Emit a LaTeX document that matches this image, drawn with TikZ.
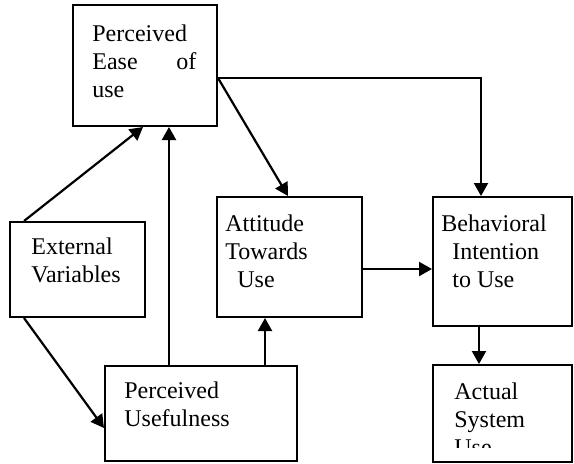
\documentclass[tikz,border=0pt]{standalone}
\usepackage{fontspec}
\setmainfont{Liberation Serif}
\usetikzlibrary{positioning,arrows.meta}

\begin{document}
\begin{tikzpicture}[x=0.5pt,y=-0.5pt,
    box/.style={draw,line width=1pt,inner sep=0pt},
    lbl/.style={inner sep=0pt,align=left,font=\fontsize{12pt}{14pt}\selectfont},
    arr/.style={line width=1.1pt,-{Triangle[length=6.5pt,width=7pt]}}]
\useasboundingbox (0,0) rectangle (574,463);
% boxes
\node[box,minimum width=72pt,minimum height=60.5pt] (peou) at (145,65.5) {};
\node[box,minimum width=72.5pt,minimum height=60pt] (att) at (289.5,257) {};
\node[box,minimum width=69.5pt,minimum height=64.5pt] (bi) at (502.5,261.5) {};
\node[box,minimum width=69.5pt,minimum height=48.5pt] (act) at (502.5,413.5) {};
\node[box,minimum width=67.5pt,minimum height=47.5pt] (ext) at (77.5,269.5) {};
\node[box,minimum width=96pt,minimum height=47.5pt] (pu) at (201,413.5) {};
% texts
\node[lbl,text width=52pt,below right=10pt and 10pt of peou.north west] (peoutxt) {Perceived\\ Ease\hfill of\\ use};
\node[lbl,below right=9pt and 4.5pt of att.north west] (atttxt) {Attitude\\ Towards\\ \hspace*{6pt}Use};
\node[lbl,below right=9pt and 4.5pt of bi.north west] (bitxt) {Behavioral\\ \hspace*{5.5pt}Intention\\ \hspace*{5.5pt}to Use};
\begin{scope}
  \clip (act.north west) rectangle ([yshift=8pt]act.south east);
  \node[lbl,below right=9pt and 11pt of act.north west] (acttxt) {Actual\\ System\\ Use};
\end{scope}
\node[lbl,below right=8pt and 11pt of ext.north west] (exttxt) {External\\ Variables};
\node[lbl,below right=8pt and 10pt of pu.north west] (putxt) {Perceived\\ Usefulness};
% connectors
\draw[arr] ([xshift=7.5pt]ext.north west) -- ([xshift=-1pt]peou.south);
\draw[arr] ([xshift=7.5pt]ext.south west) -- ([yshift=-7.25pt]pu.west);
\draw[arr] ([xshift=-16pt]pu.north) -- ([xshift=-16pt]pu.north |- peou.south);
\draw[arr] ([xshift=32pt]pu.north) -- ([xshift=32pt]pu.north |- att.south);
\draw[arr] ([yshift=-6.25pt]peou.east) -- ([xshift=-0.75pt]att.north);
\draw[arr] ([yshift=-6.25pt]peou.east) -| ([xshift=-10.75pt]bi.north);
\draw[arr] ([yshift=-6pt]att.east) -- ([yshift=-6pt]att.east -| bi.west);
\draw[arr] ([xshift=-11.75pt]bi.south) -- ([xshift=-11.75pt]bi.south |- act.north);
\end{tikzpicture}
\end{document}
